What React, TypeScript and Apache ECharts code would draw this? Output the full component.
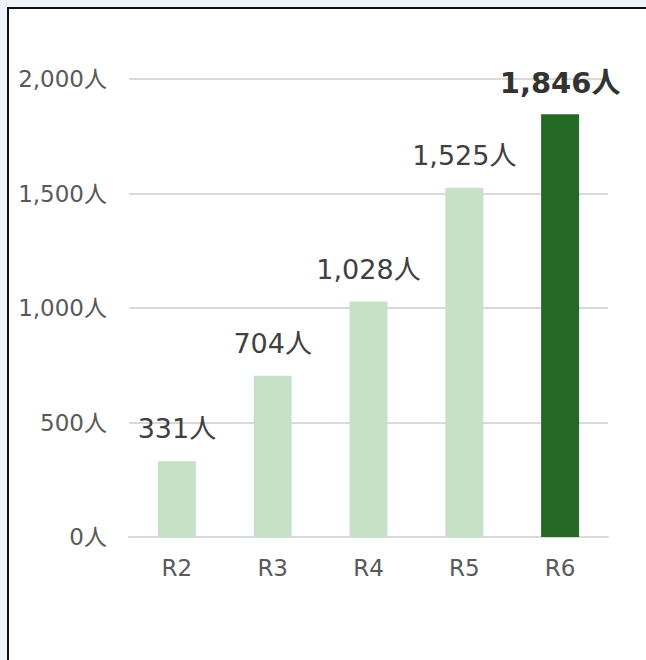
import React, { useEffect, useRef } from "react";
import * as echarts from "echarts";

const categories = ["R2", "R3", "R4", "R5", "R6"];
const values = [331, 704, 1028, 1525, 1846];
const yTicks = [0, 500, 1000, 1500, 2000];

const FONT = "'DejaVu Sans', 'Noto Sans CJK JP', sans-serif";
const fmt = (v: number) => v.toLocaleString("en-US") + "人";

export default function App() {
  const ref = useRef<HTMLDivElement>(null);
  useEffect(() => {
    if (!ref.current) return;
    const chart = echarts.init(ref.current, undefined, { renderer: "svg" });
    const last = values.length - 1;
    chart.setOption({
      animation: false,
      grid: { left: 129, top: 79, width: 479, height: 458, containLabel: false },
      xAxis: {
        type: "category",
        data: categories,
        axisTick: { show: false },
        axisLine: { lineStyle: { color: "#d9d9d9", width: 2 } },
        axisLabel: { color: "#595959", fontSize: 23, fontFamily: FONT, margin: 19 },
      },
      yAxis: {
        type: "value",
        min: yTicks[0],
        max: yTicks[yTicks.length - 1],
        interval: 500,
        axisLine: { show: false },
        axisTick: { show: false },
        splitLine: { lineStyle: { color: "#d9d9d9", width: 2 } },
        axisLabel: {
          color: "#595959",
          fontSize: 23,
          fontFamily: FONT,
          margin: 22,
          formatter: (v: number) => fmt(v),
        },
      },
      series: [
        {
          type: "bar",
          barWidth: 38,
          data: values.map((v, i) => ({
            value: v,
            itemStyle: { color: i === last ? "#246a24" : "#c7e1c7" },
            label: {
              show: true,
              position: "top",
              distance: i === last ? 17 : 19,
              formatter: (p: any) => fmt(p.value),
              color: i === last ? "#333333" : "#404040",
              fontSize: i === last ? 29 : 27,
              fontWeight: i === last ? "bold" : "normal",
              fontFamily: FONT,
            },
          })),
        },
      ],
    });
    return () => chart.dispose();
  }, []);

  return (
    <div style={{ position: "fixed", left: 0, top: 0, width: 646, height: 660, background: "#eef4f9", overflow: "hidden" }}>
      <div
        style={{
          position: "absolute",
          left: 7,
          top: 7,
          width: 700,
          height: 700,
          border: "2px solid #111",
          background: "#ffffff",
        }}
      />
      <div ref={ref} style={{ position: "absolute", left: 0, top: 0, width: 646, height: 660 }} />
    </div>
  );
}
